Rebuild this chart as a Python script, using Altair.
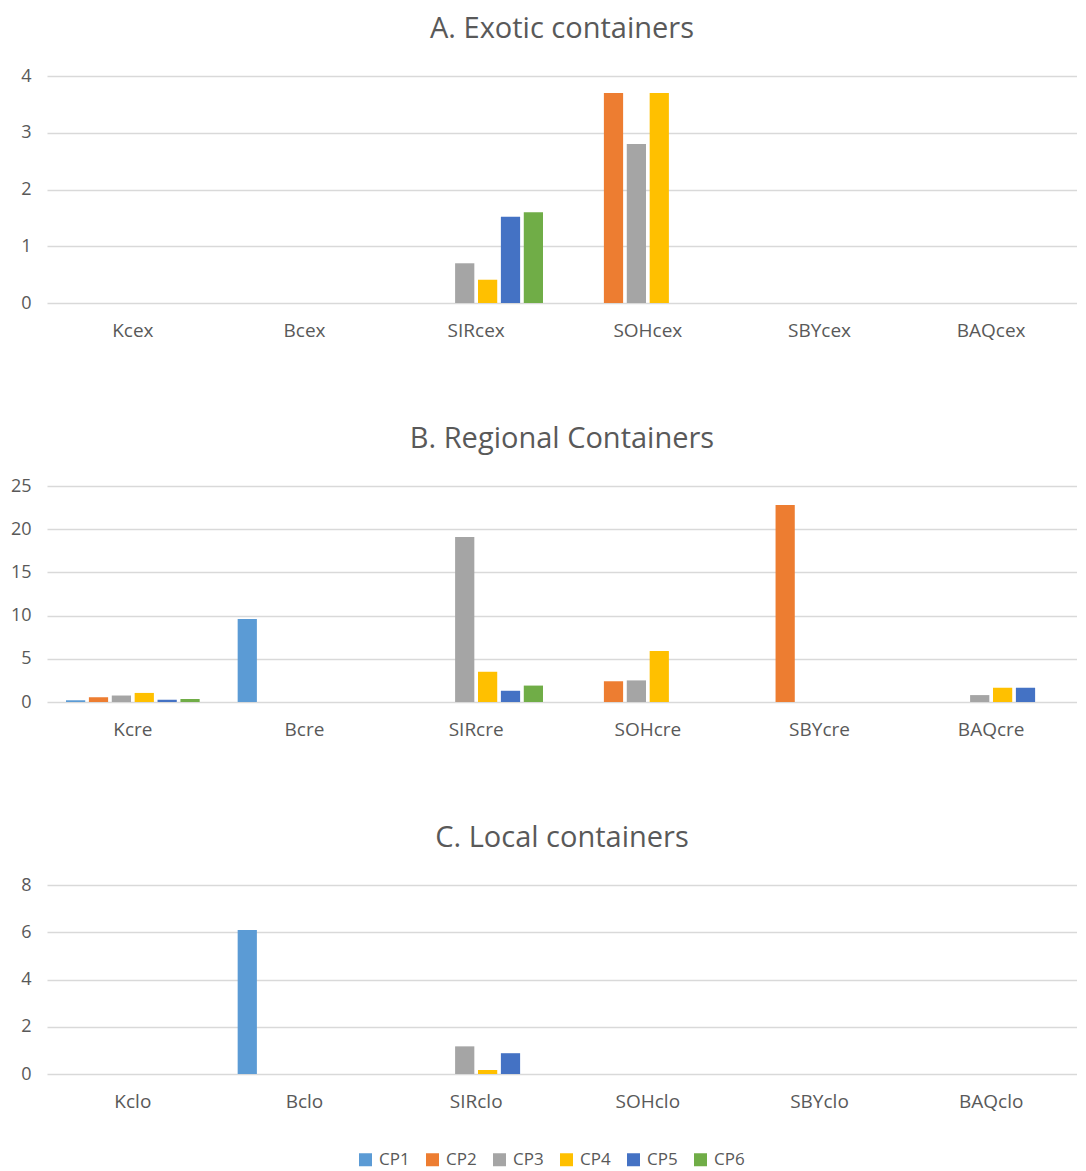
import altair as alt
import pandas as pd

series = ["CP1", "CP2", "CP3", "CP4", "CP5", "CP6"]
colors = ["#5B9BD5", "#ED7D31", "#A5A5A5", "#FFC000", "#4472C4", "#70AD47"]

# Panel A: Exotic containers
cats_a = ["Kcex", "Bcex", "SIRcex", "SOHcex", "SBYcex", "BAQcex"]
a_cp1 = [0, 0, 0, 0, 0, 0]
a_cp2 = [0, 0, 0, 3.7, 0, 0]
a_cp3 = [0, 0, 0.7, 2.8, 0, 0]
a_cp4 = [0, 0, 0.41, 3.7, 0, 0]
a_cp5 = [0, 0, 1.52, 0, 0, 0]
a_cp6 = [0, 0, 1.6, 0, 0, 0]

# Panel B: Regional containers
cats_b = ["Kcre", "Bcre", "SIRcre", "SOHcre", "SBYcre", "BAQcre"]
b_cp1 = [0.2, 9.6, 0, 0, 0, 0]
b_cp2 = [0.55, 0, 0, 2.4, 22.8, 0]
b_cp3 = [0.75, 0, 19.1, 2.5, 0, 0.8]
b_cp4 = [1.05, 0, 3.5, 5.9, 0, 1.65]
b_cp5 = [0.27, 0, 1.3, 0, 0, 1.65]
b_cp6 = [0.35, 0, 1.9, 0, 0, 0]

# Panel C: Local containers
cats_c = ["Kclo", "Bclo", "SIRclo", "SOHclo", "SBYclo", "BAQclo"]
c_cp1 = [0, 6.1, 0, 0, 0, 0]
c_cp2 = [0, 0, 0, 0, 0, 0]
c_cp3 = [0, 0, 1.17, 0, 0, 0]
c_cp4 = [0, 0, 0.17, 0, 0, 0]
c_cp5 = [0, 0, 0.88, 0, 0, 0]
c_cp6 = [0, 0, 0, 0, 0, 0]

FONT = "Open Sans"
TXT = "#595959"


def long_df(cats, cols):
    rows = []
    for s, vals in zip(series, cols):
        for c, v in zip(cats, vals):
            rows.append({"cat": c, "series": s, "value": v})
    return pd.DataFrame(rows)


def panel(cats, cols, title, ymax, yvals, w, h):
    df = long_df(cats, cols)
    return alt.Chart(df).mark_bar().encode(
        x=alt.X("cat:N", sort=cats,
                scale=alt.Scale(paddingInner=0.2, paddingOuter=0.1),
                axis=alt.Axis(title=None, labelAngle=0, ticks=False, domain=False,
                              labelPadding=18, labelFontSize=19, labelColor=TXT,
                              labelFont=FONT)),
        xOffset=alt.XOffset("series:N", sort=series,
                            scale=alt.Scale(paddingInner=0.16, paddingOuter=0.08)),
        y=alt.Y("value:Q", scale=alt.Scale(domain=[0, ymax], nice=False),
                axis=alt.Axis(title=None, values=yvals, domain=False, ticks=False,
                              gridColor="#D9D9D9", gridWidth=1.6, labelPadding=16,
                              labelFontSize=18, labelColor=TXT, labelFont=FONT)),
        color=alt.Color("series:N", sort=series,
                        scale=alt.Scale(domain=series, range=colors),
                        legend=alt.Legend(title=None, orient="none", direction="horizontal",
                                          legendX=310, legendY=1075,
                                          symbolType="square", symbolSize=169,
                                          symbolStrokeWidth=0, labelOffset=5,
                                          labelFontSize=17, labelColor=TXT, labelFont=FONT,
                                          columnPadding=14, padding=0)),
    ).properties(
        width=w, height=h,
        title=alt.TitleParams(title, fontSize=29, font=FONT, color=TXT,
                              fontWeight="normal", anchor="middle", offset=23),
    )


W = 1030
pa = panel(cats_a, [a_cp1, a_cp2, a_cp3, a_cp4, a_cp5, a_cp6],
           "A. Exotic containers", 4, [0, 1, 2, 3, 4], W, 227)
pb = panel(cats_b, [b_cp1, b_cp2, b_cp3, b_cp4, b_cp5, b_cp6],
           "B. Regional Containers", 25, [0, 5, 10, 15, 20, 25], W, 216)
pc = panel(cats_c, [c_cp1, c_cp2, c_cp3, c_cp4, c_cp5, c_cp6],
           "C. Local containers", 8, [0, 2, 4, 6, 8], W, 189)

chart = alt.ConcatChart(concat=[pa, pb, pc], columns=1, spacing=85,
                        padding={"left": 2, "top": 7, "right": 0, "bottom": 10},
                        background="white"
                        ).configure_view(stroke=None)

chart.save("out.html", embed_options={"renderer": "svg", "actions": False})
